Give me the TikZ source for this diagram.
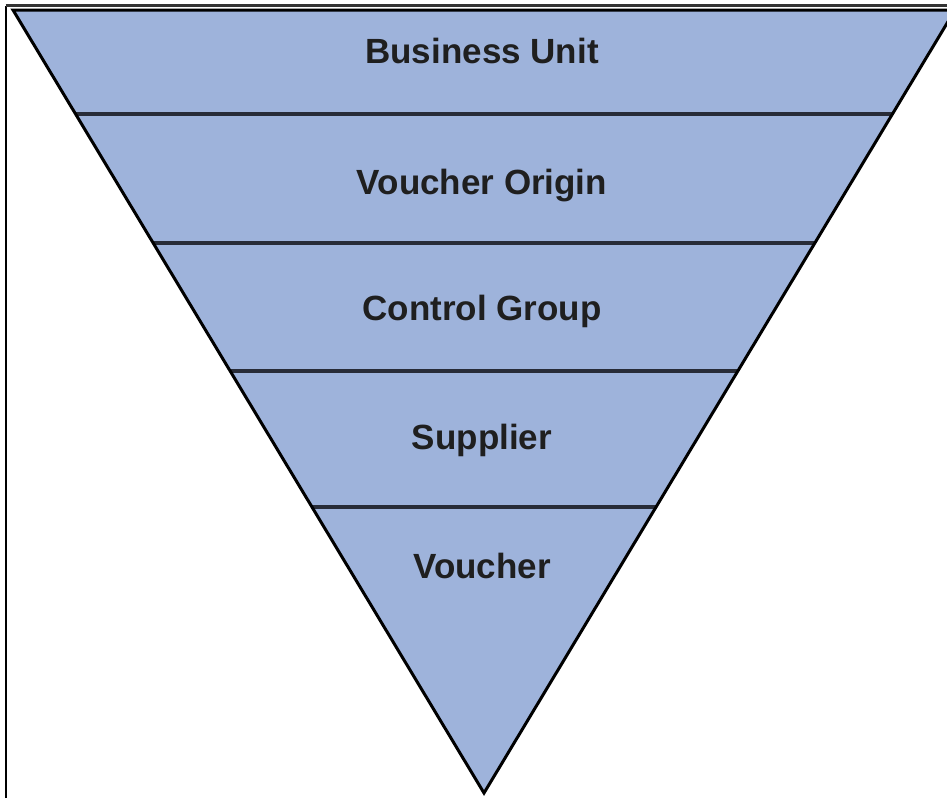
\documentclass[tikz,border=0pt]{standalone}
\usepackage{fontspec}
\setmainfont{Liberation Sans}
\definecolor{tierblue}{RGB}{158,179,219}
\definecolor{tierline}{RGB}{40,44,56}
\begin{document}
\begin{tikzpicture}[x=1pt,y=-1pt,
    tier/.style={font=\fontsize{35}{42}\selectfont\bfseries,text=black!88,anchor=base,inner sep=0pt}]
  \useasboundingbox (0,0) rectangle (947,798);
  % frame
  \draw[line width=2pt] (6.3,798) -- (6.3,5.5);
  \draw[line width=2.2pt,gray!40!black] (5.5,5.5) -- (947,5.5);
  % funnel
  \coordinate (tl) at (13,10);
  \coordinate (tr) at (955,10);
  \coordinate (tip) at (484,793);
  \scope
  \clip (0,0) rectangle (947,798);
  \fill[tierblue] (tl) -- (tr) -- (tip) -- cycle;
  \foreach \y in {114,243,371,507}
    \draw[tierline,line width=3.5pt] ({484-0.6*(795-\y)},\y) -- ({484+0.6*(795-\y)},\y);
  \draw[line width=3pt] (tl) -- (tr) -- (tip) -- cycle;
  \endscope
  % tiers
  \node[tier] (bu) at (482,63) {Business Unit};
  \node[tier] (vo) at (482,194) {Voucher Origin};
  \node[tier] (cg) at (482,320) {Control Group};
  \node[tier] (sp) at (482,449) {Supplier};
  \node[tier] (vc) at (482,578) {Voucher};
\end{tikzpicture}
\end{document}
